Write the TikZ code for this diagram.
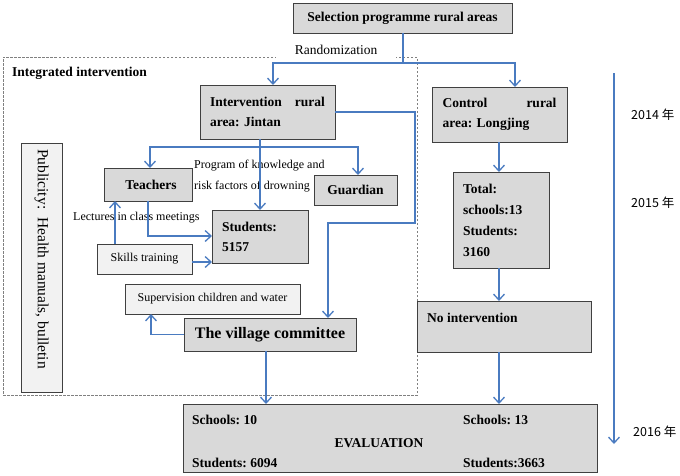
\documentclass[tikz,border=0pt]{standalone}
\usepackage{fontspec}
\setmainfont{Liberation Serif}
\newfontfamily\cjk{Noto Sans CJK SC}
\usetikzlibrary{arrows.meta,calc}
\definecolor{lineblue}{HTML}{4A7BC0}
\definecolor{edgegray}{HTML}{404040}
\definecolor{boxgray}{HTML}{D9D9D9}
\definecolor{boxlight}{HTML}{F2F2F2}
\definecolor{framegray}{HTML}{808080}
\tikzset{
  box/.style={draw=edgegray, fill=boxgray, line width=0.9pt, inner sep=0pt, outer sep=0pt},
  lbox/.style={box, fill=boxlight},
  bf/.style={font=\fontsize{13.5}{20}\selectfont\bfseries},
  rmtext/.style={font=\fontsize{12}{21}\selectfont},
  conn/.style={draw=lineblue, line width=1.3pt, -{Straight Barb[length=6pt,width=11pt,line width=1.3pt]}},
  plain/.style={draw=lineblue, line width=1.3pt},
  year/.style={font=\cjk\fontsize{12.5}{14}\selectfont, anchor=west, inner sep=0pt},
}
\frenchspacing
\begin{document}
\frenchspacing
\begin{tikzpicture}[x=1pt,y=-1pt]
\useasboundingbox (0,0) rectangle (680,475);
% dashed frame
\node (frame) [draw=framegray, dashed, dash pattern=on 2.5pt off 1.5pt, line width=0.8pt,
  minimum width=414pt, minimum height=338pt, inner sep=0pt] at (210,226) {};
\node (rand) [fill=white, minimum width=120pt, minimum height=18pt, inner sep=0pt,
  font=\fontsize{13.5}{16}\selectfont] at (336,50) {Randomization};
\node (integ) [bf, anchor=west, inner sep=0pt] at (12,73) {Integrated intervention};

% boxes
\node (sel) [box, bf, minimum width=219pt, minimum height=30pt] at (402.5,18) {Selection programme rural areas};
\node (interv) [box, bf, minimum width=135pt, minimum height=54pt, text width=115pt, align=left]
  at (267.5,112) {Intervention\hfill rural\\area: Jintan};
\node (ctrl) [box, bf, minimum width=135pt, minimum height=55pt, text width=114pt, align=left]
  at (499.5,114.5) {Control\hfill rural\\area: Longjing};
\node (total) [box, bf, font=\fontsize{13.5}{21}\selectfont\bfseries, minimum width=96pt, minimum height=96pt,
  text width=76pt, align=left] at (501,220) {Total:\\schools:13\\Students:\\3160};
\node (noint) [box, minimum width=174pt, minimum height=51pt] at (504,326.5) {};
\node (nointlabel) [bf, anchor=base west, inner sep=0pt] at (427,322) {No intervention};

\node (pub) [box, fill=boxlight, minimum width=41pt, minimum height=249pt] at (41.5,267.5) {};
\node (pubtext) [rotate=-90, inner sep=0pt, font=\fontsize{15.5}{18}\selectfont] at (41.5,259)
  {Publicity:\ \ Health manuals, bulletin};

\node (teach) [box, bf, minimum width=88pt, minimum height=33pt] at (148,184.5) {\hspace{6pt}Teachers};
\node (guard) [box, bf, minimum width=83pt, minimum height=30pt] at (355.5,190) {Guardian};
\node (stud) [box, bf, minimum width=96pt, minimum height=53pt, text width=76pt, align=left]
  at (260,236.5) {Students:\\5157};
\node (skills) [lbox, rmtext, minimum width=95pt, minimum height=30pt] at (144.5,259) {Skills training};
\node (superv) [lbox, rmtext, minimum width=175pt, minimum height=30pt] at (212.5,299) {Supervision children and water};
\node (village) [box, font=\fontsize{16}{18}\selectfont\bfseries, minimum width=172pt, minimum height=33pt]
  at (270,334.5) {The village committee};

\node (eval) [box, minimum width=414pt, minimum height=68pt] at (390,438) {};
\node (ev1) [bf, anchor=base west, inner sep=0pt] at (192,424) {Schools: 10};
\node (ev2) [bf, anchor=base, inner sep=0pt] at (379,447) {EVALUATION};
\node (ev3) [bf, anchor=base west, inner sep=0pt] at (192,467) {Students: 6094};
\node (ev4) [bf, anchor=base west, inner sep=0pt] at (463,424) {Schools: 13};
\node (ev5) [bf, anchor=base west, inner sep=0pt] at (463,467) {Students:3663};

% labels
\node (prog) [rmtext, anchor=west, align=left, inner sep=0pt] at (194,176.5)
  {Program of knowledge and\\risk factors of drowning};
\node (lect) [rmtext, anchor=west, inner sep=0pt] at (73,218) {Lectures in class meetings};

% connectors
\coordinate (split) at (403,63);
\draw[plain] (sel.south -| split) -- (split);
\draw[conn] (split) -| ([xshift=5.5pt]interv.north);
\draw[conn] (split) -| ([xshift=15.5pt]ctrl.north);

\draw[conn] (interv.south -| stud.north) -- (stud.north);
\coordinate (brY) at (0,147);
\draw[plain, {Straight Barb[length=6pt,width=11pt,line width=1.3pt]}-{Straight Barb[length=6pt,width=11pt,line width=1.3pt]}]
  ([xshift=2pt]teach.north) -- ([xshift=2pt]teach.north |- brY) -- ([xshift=2.5pt]guard.north |- brY) -- ([xshift=2.5pt]guard.north);

\coordinate (r1) at (415,223);
\coordinate (vtop) at ([xshift=58pt]village.north);
\draw[conn] (interv.east) -| (r1) -| (vtop);

\draw[conn] (teach.south) |- ([yshift=0.5pt]stud.west);
\coordinate (skT) at ([xshift=-29.5pt]skills.north);
\draw[conn] (skT) -- (skT |- teach.south);
\draw[conn] ([yshift=-3pt]skills.east) -- ([yshift=-3pt]skills.east -| stud.west);

\coordinate (svB) at ([xshift=-61.5pt]superv.south);
\draw[conn] (village.west) -| (svB);
\coordinate (vb) at ([xshift=-4pt]village.south);
\draw[conn] (vb) -- (vb |- eval.north);

\coordinate (cx) at (499,0);
\draw[conn] (ctrl.south -| cx) -- (total.north -| cx);
\draw[conn] (total.south -| cx) -- (noint.north -| cx);
\draw[conn] (noint.south -| cx) -- (eval.north -| cx);

% timeline
\coordinate (tl1) at (614,73);
\coordinate (tl2) at (614,444);
\draw[conn] (tl1) -- (tl2);
\node (y14) [year] at (631,115) {2014 年};
\node (y15) [year] at (631,203) {2015 年};
\node (y16) [year] at (633,432) {2016 年};
\end{tikzpicture}
\end{document}
